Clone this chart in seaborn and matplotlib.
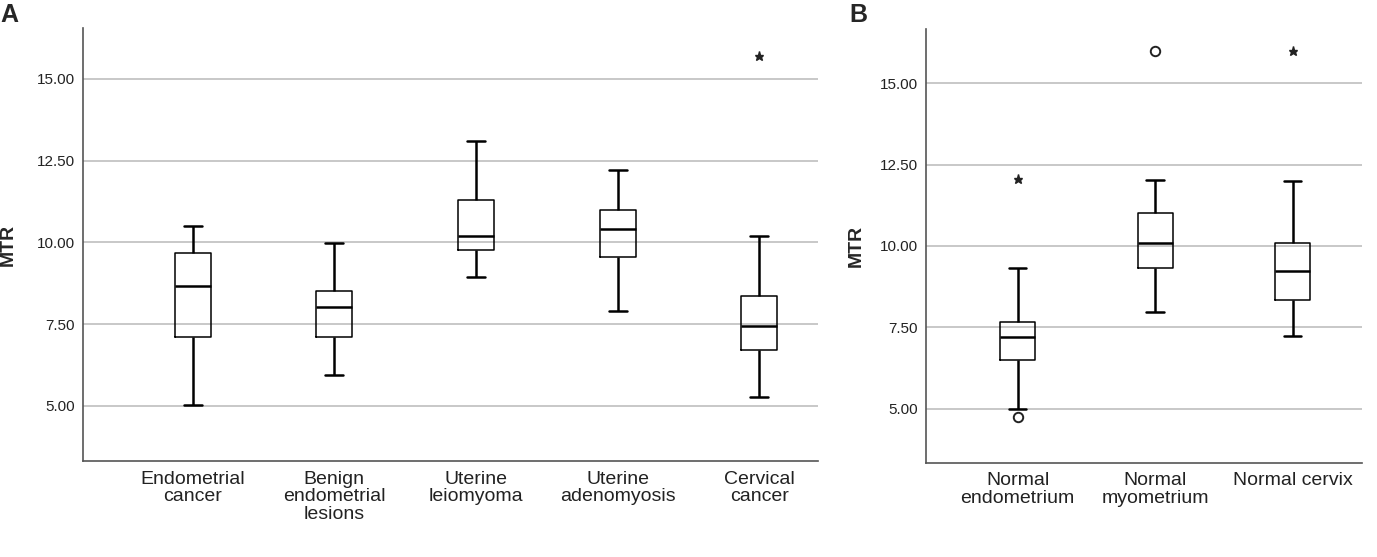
import numpy as np
import pandas as pd
import seaborn as sns
import matplotlib.pyplot as plt

# panel A: five-number summaries
a_groups = ['Endometrial\ncancer', 'Benign\nendometrial\nlesions', 'Uterine\nleiomyoma',
            'Uterine\nadenomyosis', 'Cervical\ncancer']
a_low = [5.02, 5.94, 8.93, 7.90, 5.26]
a_q1 = [7.09, 7.09, 9.78, 9.54, 6.71]
a_med = [8.66, 8.02, 10.19, 10.41, 7.44]
a_q3 = [9.68, 8.52, 11.31, 10.99, 8.35]
a_high = [10.51, 9.98, 13.09, 12.20, 10.19]
a_star_groups = ['Cervical\ncancer']
a_star_vals = [15.71]
a_circle_groups = []
a_circle_vals = []

# panel B
b_groups = ['Normal\nendometrium', 'Normal\nmyometrium', 'Normal cervix']
b_low = [4.98, 7.97, 7.24]
b_q1 = [6.50, 9.32, 8.35]
b_med = [7.19, 10.08, 9.23]
b_q3 = [7.67, 11.01, 10.10]
b_high = [9.33, 12.02, 12.00]
b_star_groups = ['Normal\nendometrium', 'Normal cervix']
b_star_vals = [12.06, 16.00]
b_circle_groups = ['Normal\nendometrium', 'Normal\nmyometrium']
b_circle_vals = [4.74, 16.00]

yticks = [5.0, 7.5, 10.0, 12.5, 15.0]

sns.set_style('white')
plt.rcParams['font.family'] = ['Liberation Sans', 'DejaVu Sans']


def long_form(groups, lo, q1, med, q3, hi):
    rows = []
    for i, g in enumerate(groups):
        for v in (lo[i], q1[i], med[i], q3[i], hi[i]):
            rows.append({'group': g, 'MTR': v})
    return pd.DataFrame(rows)


def draw_panel(ax, groups, lo, q1, med, q3, hi, sg, sv, cg, cv, xlim, ylim, ylab_x):
    df = long_form(groups, lo, q1, med, q3, hi)
    sns.boxplot(data=df, x='group', y='MTR', order=groups, whis=(0, 100), ax=ax,
                fill=False, color='black', linecolor='black', width=0.254,
                boxprops={'linewidth': 1.1, 'color': 'black'},
                whiskerprops={'linewidth': 1.8, 'color': 'black'},
                capprops={'linewidth': 1.8, 'color': 'black'},
                medianprops={'linewidth': 1.8, 'color': 'black'})
    sx = [groups.index(g) for g in sg]
    ax.plot(sx, sv, linestyle='none', marker='*', markersize=6.5, color='#222222', zorder=5)
    cx = [groups.index(g) for g in cg]
    ax.plot(cx, cv, linestyle='none', marker='o', markersize=6.8, markerfacecolor='white',
            markeredgecolor='#222222', markeredgewidth=1.4, zorder=5)
    ax.set_xlim(*xlim)
    ax.set_ylim(*ylim)
    ax.set_yticks(yticks)
    ax.set_yticklabels([f'{t:.2f}' for t in yticks])
    ax.yaxis.grid(True, color='#c4c4c4', linewidth=1.3)
    ax.set_axisbelow(True)
    for s in ['top', 'right']:
        ax.spines[s].set_visible(False)
    for s in ['left', 'bottom']:
        ax.spines[s].set_color('#555555')
        ax.spines[s].set_linewidth(1.2)
    ax.tick_params(axis='both', length=0)
    ax.tick_params(axis='y', labelsize=11, pad=6, labelcolor='#222222')
    ax.tick_params(axis='x', labelsize=14, pad=7, labelcolor='#222222')
    for lab in ax.get_xticklabels():
        lab.set_linespacing(1.05)
        lab.set_verticalalignment('top')
    ax.set_xlabel('')
    ax.set_ylabel('MTR', fontsize=14, fontweight='bold')
    ax.yaxis.set_label_coords(ylab_x, 0.5)


fig = plt.figure(figsize=(13.77, 5.57), dpi=100)
ax_a = fig.add_axes([0.0603, 0.1724, 0.5337, 0.7773])
ax_b = fig.add_axes([0.6725, 0.1693, 0.3166, 0.7787])

draw_panel(ax_a, a_groups, a_low, a_q1, a_med, a_q3, a_high,
           a_star_groups, a_star_vals, a_circle_groups, a_circle_vals,
           (-0.775, 4.415), (3.31, 16.56), -0.09)
draw_panel(ax_b, b_groups, b_low, b_q1, b_med, b_q3, b_high,
           b_star_groups, b_star_vals, b_circle_groups, b_circle_vals,
           (-0.667, 2.504), (3.34, 16.67), -0.14)

fig.text(0.0, 0.995, 'A', fontsize=18, fontweight='bold', va='top', ha='left')
fig.text(0.617, 0.995, 'B', fontsize=18, fontweight='bold', va='top', ha='left')

fig.savefig('out.png', dpi=100)
